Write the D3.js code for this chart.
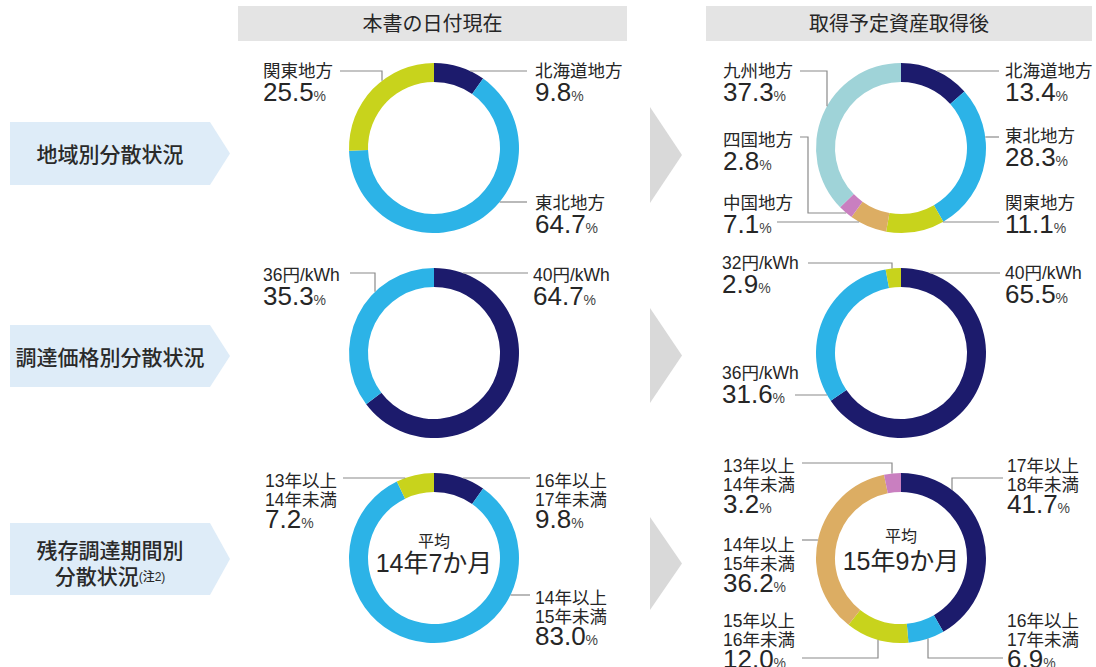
<!DOCTYPE html>
<html lang="ja">
<head>
<meta charset="utf-8">
<script src="https://cdn.jsdelivr.net/npm/d3@7"></script>
<style>
  html, body { margin: 0; padding: 0; background: #fff; }
  svg { display: block; font-family: "Liberation Sans", "Noto Sans CJK JP", sans-serif; }
</style>
</head>
<body>
<svg id="chart" width="1096" height="667"></svg>
<script>
// ---- data ----
const columnHeaders = ["本書の日付現在", "取得予定資産取得後"];
const rowTitles = [["地域別分散状況"], ["調達価格別分散状況"], ["残存調達期間別", "分散状況"]];
const rowTitleNote = "(注2)";

const regionCurrentLabels = ["北海道地方", "東北地方", "関東地方"];
const regionCurrentValues = [9.8, 64.7, 25.5];
const regionAfterLabels = ["北海道地方", "東北地方", "関東地方", "中国地方", "四国地方", "九州地方"];
const regionAfterValues = [13.4, 28.3, 11.1, 7.1, 2.8, 37.3];

const priceCurrentLabels = ["40円/kWh", "36円/kWh"];
const priceCurrentValues = [64.7, 35.3];
const priceAfterLabels = ["40円/kWh", "36円/kWh", "32円/kWh"];
const priceAfterValues = [65.5, 31.6, 2.9];

const termCurrentLabels = ["16年以上17年未満", "14年以上15年未満", "13年以上14年未満"];
const termCurrentValues = [9.8, 83.0, 7.2];
const termAfterLabels = ["17年以上18年未満", "16年以上17年未満", "15年以上16年未満", "14年以上15年未満", "13年以上14年未満"];
const termAfterValues = [41.7, 6.9, 12.0, 36.2, 3.2];

const averageCaption = "平均";
const averageTerms = ["14年7か月", "15年9か月"];

// ---- styles ----
const C = {
  navy: "#1c1b6c",
  sky: "#2cb3e7",
  lime: "#c8d31c",
  tan: "#dcad63",
  pink: "#c97fc0",
  teal: "#9fd3d8",
  text: "#262626",
  lead: "#8a8a8a",
  header: "#e4e4e4",
  rowBox: "#deecf8",
  arrow: "#d9d9d9"
};

const colX = [434, 901];
const rowY = [148, 353, 558];
const R = 85, r = 66;

// Label placement per chart (offsets from the donut centre), same order as the data
const charts = [
  { row: 0, col: 0, labels: regionCurrentLabels, values: regionCurrentValues,
    colors: [C.navy, C.sky, C.lime],
    place: [
      { x: 101, y: -71, lead: [[93, -77]], end: "h" },
      { x: 101, y: 61, lead: [[93, 54]], end: "h" },
      { x: -171, y: -71, lead: [[-94, -77], [-52, -77]], end: "v" }
    ] },
  { row: 0, col: 1, labels: regionAfterLabels, values: regionAfterValues,
    colors: [C.navy, C.sky, C.lime, C.tan, C.pink, C.teal],
    place: [
      { x: 104, y: -71, lead: [[98, -77]], end: "h" },
      { x: 104, y: -6, lead: [[98, -11]], end: "h" },
      { x: 104, y: 61, lead: [[98, 74]], end: "h" },
      { x: -178, y: 61, lead: [[-124, 74]], end: "h" },
      { x: -178, y: -2, lead: [[-101, -11], [-93, -11], [-93, 65]], end: "h" },
      { x: -178, y: -71, lead: [[-101, -77], [-74, -77]], end: "v" }
    ] },
  { row: 1, col: 0, labels: priceCurrentLabels, values: priceCurrentValues,
    colors: [C.navy, C.sky],
    place: [
      { x: 99, y: -72, lead: [[94, -80]], end: "h" },
      { x: -171, y: -72, lead: [[-84, -80], [-59, -80]], end: "v" }
    ] },
  { row: 1, col: 1, labels: priceAfterLabels, values: priceAfterValues,
    colors: [C.navy, C.sky, C.lime],
    place: [
      { x: 104, y: -74, lead: [[99, -80]], end: "h" },
      { x: -179, y: 26, lead: [[-106, 42]], end: "h" },
      { x: -179, y: -84, lead: [[-93, -90], [-9, -90]], end: "v" }
    ] },
  { row: 2, col: 0, labels: termCurrentLabels, values: termCurrentValues,
    colors: [C.navy, C.sky, C.lime], average: averageTerms[0], avgDy: [-11, 14],
    place: [
      { x: 101, y: -71, lead: [[96, -80]], end: "h" },
      { x: 101, y: 46, lead: [[96, 37]], end: "h" },
      { x: -169, y: -71, lead: [[-91, -80]], end: "h" }
    ] },
  { row: 2, col: 1, labels: termAfterLabels, values: termAfterValues,
    colors: [C.navy, C.sky, C.lime, C.tan, C.pink], average: averageTerms[1], avgDy: [-16, 12],
    place: [
      { x: 106, y: -86, lead: [[102, -80], [51, -80]], end: "v" },
      { x: 106, y: 69, lead: [[102, 100], [27, 100]], end: "v" },
      { x: -178, y: 69, lead: [[-99, 100], [-23, 100]], end: "v" },
      { x: -178, y: -7, lead: [[-99, -18]], end: "h" },
      { x: -178, y: -86, lead: [[-99, -95], [-9, -95]], end: "v" }
    ] }
];

const svg = d3.select("#chart");
const fmt = d3.format(".1f");

// ---- column headers ----
const headerBoxes = [[238, 627], [706, 1092]];
columnHeaders.forEach((h, i) => {
  const [x0, x1] = headerBoxes[i];
  svg.append("rect").attr("x", x0).attr("y", 6).attr("width", x1 - x0).attr("height", 35)
    .attr("fill", C.header);
  svg.append("text").attr("x", (x0 + x1) / 2).attr("y", 24)
    .attr("text-anchor", "middle").attr("dominant-baseline", "central")
    .attr("font-size", 20).attr("fill", C.text).text(h);
});

// ---- row title arrows ----
const rowBoxes = [[122, 185], [325, 387], [523, 595]];
rowTitles.forEach((lines, i) => {
  const [y0, y1] = rowBoxes[i];
  const ym = (y0 + y1) / 2;
  svg.append("polygon")
    .attr("points", [[10, y0], [210, y0], [230, ym], [210, y1], [10, y1]].map(p => p.join(",")).join(" "))
    .attr("fill", C.rowBox);
  const t = svg.append("text").attr("text-anchor", "middle").attr("font-size", 21)
    .attr("fill", "#2a2a2a").attr("font-weight", 500);
  if (lines.length === 1) {
    t.attr("x", 110).attr("y", ym + 1).attr("dominant-baseline", "central").text(lines[0]);
  } else {
    t.append("tspan").attr("x", 110).attr("y", ym - 1).text(lines[0]);
    t.append("tspan").attr("x", 110).attr("y", ym + 25).text(lines[1]);
    t.append("tspan").attr("font-size", 12).attr("dy", -3).text(rowTitleNote);
  }
});

// ---- grey arrows between columns ----
rowBoxes.forEach((_, i) => {
  const top = [107, 308, 517][i], bot = [203, 403, 610][i];
  svg.append("polygon")
    .attr("points", [[650, top], [682, (top + bot) / 2], [650, bot]].map(p => p.join(",")).join(" "))
    .attr("fill", C.arrow);
});

// ---- donuts ----
const pie = d3.pie().sort(null).value(d => d).startAngle(0).endAngle(2 * Math.PI);
const arc = d3.arc().innerRadius(r).outerRadius(R);

function splitLabel(s) {
  const m = s.match(/^(.*以上)(.*)$/);
  return m ? [m[1], m[2]] : [s];
}

charts.forEach(ch => {
  const cx = colX[ch.col], cy = rowY[ch.row];
  const g = svg.append("g").attr("transform", `translate(${cx},${cy})`);

  g.selectAll("path.slice").data(pie(ch.values)).join("path")
    .attr("class", "slice")
    .attr("d", arc)
    .attr("fill", (d, i) => ch.colors[i]);

  ch.values.forEach((v, i) => {
    const p = ch.place[i];
    // leader line: last segment runs until it meets the outer ring
    const pts = p.lead.map(q => q.slice());
    const last = pts[pts.length - 1];
    const endPt = p.end === "h"
      ? [Math.sign(last[0]) * Math.sqrt(R * R - last[1] * last[1]), last[1]]
      : [last[0], Math.sign(last[1]) * Math.sqrt(R * R - last[0] * last[0])];
    pts.push(endPt);
    g.append("path").attr("d", d3.line()(pts))
      .attr("fill", "none").attr("stroke", C.lead).attr("stroke-width", 1.2);

    // category name (one or two lines) and percentage in a single text block
    const lines = splitLabel(ch.labels[i]);
    const t = g.append("text").attr("fill", C.text).attr("font-size", 17.5);
    lines.forEach((ln, k) => {
      t.append("tspan").attr("x", p.x).attr("y", p.y + k * 19).text(ln);
    });
    const numY = p.y + (lines.length - 1) * 19 + (lines.length > 1 ? 22 : 24);
    t.append("tspan").attr("x", p.x).attr("y", numY).attr("font-size", 26).text(fmt(v));
    t.append("tspan").attr("font-size", 14).attr("fill", "#444").text("%");
  });

  if (ch.average) {
    const t = g.append("text").attr("text-anchor", "middle").attr("fill", C.text);
    t.append("tspan").attr("x", 0).attr("y", ch.avgDy[0]).attr("font-size", 16).text(averageCaption);
    t.append("tspan").attr("x", 0).attr("y", ch.avgDy[1]).attr("font-size", 25).text(ch.average);
  }
});
</script>
</body>
</html>
